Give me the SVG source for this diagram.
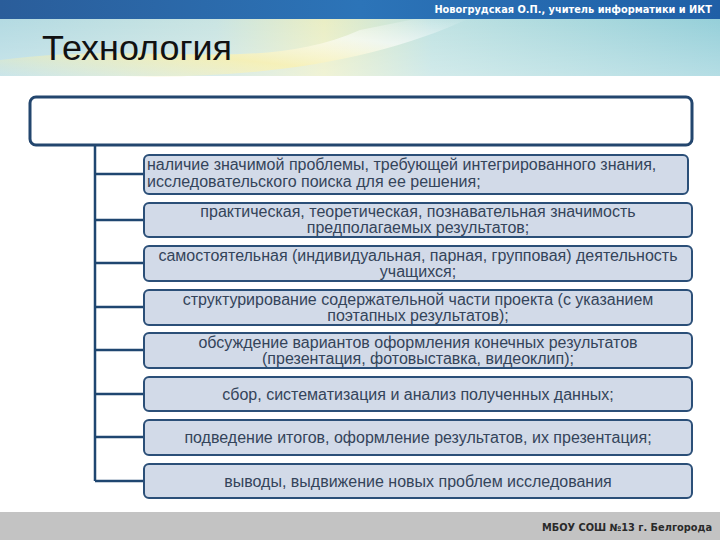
<svg xmlns="http://www.w3.org/2000/svg" width="720" height="540" viewBox="0 0 720 540">
<defs>
<linearGradient id="topbar" x1="0" y1="0" x2="1" y2="0">
<stop offset="0" stop-color="#2a5d9a"/>
<stop offset="0.5" stop-color="#2c74b8"/>
<stop offset="1" stop-color="#1f5fa6"/>
</linearGradient>
<linearGradient id="band" x1="0" y1="0" x2="1" y2="0">
<stop offset="0" stop-color="#b3dae2"/>
<stop offset="0.3" stop-color="#c9e4e2"/>
<stop offset="0.45" stop-color="#eaeec4"/>
<stop offset="0.6" stop-color="#bfe2e2"/>
<stop offset="1" stop-color="#95cfd9"/>
</linearGradient>
<linearGradient id="swoosh" x1="0" y1="1" x2="1" y2="0">
<stop offset="0" stop-color="#f6eea0" stop-opacity="0"/>
<stop offset="0.4" stop-color="#f5ec9e" stop-opacity="0.9"/>
<stop offset="0.7" stop-color="#ffffff" stop-opacity="0.6"/>
<stop offset="1" stop-color="#ffffff" stop-opacity="0"/>
</linearGradient>
<linearGradient id="fade" x1="0" y1="0" x2="0" y2="1">
<stop offset="0" stop-color="#ffffff" stop-opacity="0"/>
<stop offset="1" stop-color="#ffffff" stop-opacity="0.3"/>
</linearGradient>
</defs>
<style>
.box{fill:#d2dae8;stroke:#2b4f78;stroke-width:2}
.main{fill:#ffffff;stroke:#23466e;stroke-width:3}
.t{font-family:"Liberation Sans",Arial,sans-serif;font-size:16px;fill:#34445a}
.c{text-anchor:middle}
.conn{stroke:#1f4670;stroke-width:2.5;fill:none}
</style>
<rect width="720" height="540" fill="#ffffff"/>
<g id="header">
<rect x="0" y="18" width="720" height="58" fill="url(#band)"/>
<path d="M0 60 C150 40 260 75 360 30 L420 18 L470 18 C380 60 260 80 120 76 L0 76 Z" fill="url(#swoosh)"/>
<rect x="0" y="18" width="720" height="58" fill="url(#fade)"/>
<rect x="0" y="0" width="720" height="19" fill="url(#topbar)"/>
<text x="712" y="13" text-anchor="end" font-family="'DejaVu Sans',sans-serif" font-size="9.8" font-weight="bold" fill="#ffffff">Новогрудская О.П., учитель информатики и ИКТ</text>
<text x="42" y="60" font-family="'Liberation Sans',Arial,sans-serif" font-size="35" textLength="190" lengthAdjust="spacingAndGlyphs" fill="#111111">Технология</text>
</g>
<g id="connectors">
<path class="conn" d="M95 145 V481"/>
<path class="conn" d="M95 174 H144 M95 220 H144 M95 263 H144 M95 307 H144 M95 350 H144 M95 394 H144 M95 437 H144 M95 481 H144"/>
</g>
<g id="root"><rect class="main" x="30" y="97" width="662" height="48" rx="6"/></g>
<g id="n1"><rect class="box" x="144" y="155" width="544" height="39" rx="5"/>
<text class="t" x="147" y="170">наличие значимой проблемы, требующей интегрированного знания,</text>
<text class="t" x="147" y="187">исследовательского поиска для ее решения;</text></g>
<g id="n2"><rect class="box" x="144" y="203" width="548" height="34" rx="5"/>
<text class="t c" x="418" y="217">практическая, теоретическая, познавательная значимость</text>
<text class="t c" x="418" y="233">предполагаемых результатов;</text></g>
<g id="n3"><rect class="box" x="144" y="246" width="548" height="35" rx="5"/>
<text class="t c" x="418" y="261">самостоятельная (индивидуальная, парная, групповая) деятельность</text>
<text class="t c" x="418" y="277">учащихся;</text></g>
<g id="n4"><rect class="box" x="144" y="290" width="548" height="35" rx="5"/>
<text class="t c" x="418" y="305">структурирование содержательной части проекта (с указанием</text>
<text class="t c" x="418" y="321">поэтапных результатов);</text></g>
<g id="n5"><rect class="box" x="144" y="333" width="548" height="35" rx="5"/>
<text class="t c" x="418" y="348">обсуждение вариантов оформления конечных результатов</text>
<text class="t c" x="418" y="364">(презентация, фотовыставка, видеоклип);</text></g>
<g id="n6"><rect class="box" x="144" y="377" width="548" height="34" rx="5"/>
<text class="t c" x="418" y="400">сбор, систематизация и анализ полученных данных;</text></g>
<g id="n7"><rect class="box" x="144" y="420" width="548" height="35" rx="5"/>
<text class="t c" x="418" y="443">подведение итогов, оформление результатов, их презентация;</text></g>
<g id="n8"><rect class="box" x="144" y="464" width="548" height="34" rx="5"/>
<text class="t c" x="418" y="487">выводы, выдвижение новых проблем исследования</text></g>
<g id="footer">
<rect x="0" y="512" width="720" height="28" fill="#c3c3c3"/>
<text x="712" y="531" text-anchor="end" font-family="'DejaVu Sans',sans-serif" font-size="9.8" font-weight="bold" fill="#2a2a2a">МБОУ СОШ №13 г. Белгорода</text>
</g>
</svg>
